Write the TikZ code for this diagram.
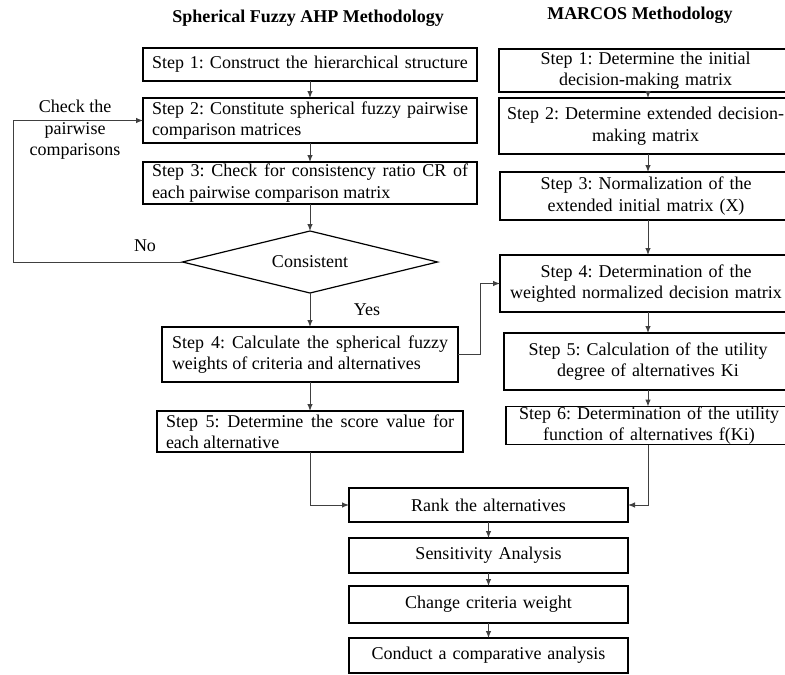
\documentclass[tikz,border=0pt]{standalone}
\usepackage{fontspec}
\setmainfont{Liberation Serif}
\frenchspacing
\usetikzlibrary{shapes.geometric,arrows.meta}
\begin{document}
\begin{tikzpicture}[x=1pt,y=-1pt,
  every node/.style={font=\fontsize{18}{21.5}\selectfont},
  bx/.style={draw=black, line width=1.5pt, inner ysep=0pt, outer sep=0pt},
  jbox/.style={bx, align=justify, inner xsep=9pt},
  lbox/.style={bx, align=left, inner xsep=9pt},
  cbox/.style={bx, align=center, inner xsep=4pt},
  ttl/.style={font=\fontsize{18}{21.5}\selectfont\bfseries},
  arr/.style={draw=black!75, line width=1pt, -{Latex[length=7pt,width=5.5pt]}}
]
\useasboundingbox (0,0) rectangle (785,675);
\fill[white] (0,0) rectangle (785,675);
\clip (0,0) rectangle (785,675);

% titles
\node[ttl] (t1) at (308,18) {Spherical Fuzzy AHP Methodology};
\node[ttl] (t2) at (640,15) {MARCOS Methodology};

% left column
\node[lbox, text width=316pt, minimum height=33pt] (s1) at (310,64.5) {Step 1: Construct the hierarchical structure};
\node[jbox, text width=316pt, minimum height=45pt] (s2) at (310,120.5) {Step 2: Constitute spherical fuzzy pairwise\linebreak comparison matrices};
\node[jbox, text width=316pt, minimum height=42pt] (s3) at (310,183) {Step 3: Check for consistency ratio CR of\linebreak each pairwise comparison matrix};
\node[bx, line width=1.2pt, diamond, aspect=4.1, minimum width=255pt, minimum height=62pt, inner sep=0pt] (dia) at (310,262) {Consistent};
\node[jbox, text width=276pt, inner xsep=10pt, minimum height=55pt] (s4) at (310,354.5) {Step 4: Calculate the spherical fuzzy\linebreak weights of criteria and alternatives};
\node[jbox, text width=288pt, minimum height=41pt] (s5) at (310,431.5) {Step 5: Determine the score value for\linebreak each alternative};

% right column
\node[cbox, text width=285pt, minimum height=43pt] (r1) at (645.5,70.5) {Step 1: Determine the initial\\decision-making matrix};
\node[cbox, text width=285pt, minimum height=56pt] (r2) at (645.5,126) {Step 2: Determine extended decision-\\making matrix};
\node[cbox, text width=284pt, minimum height=48pt] (r3) at (646,196) {Step 3: Normalization of the\\extended initial matrix (X)};
\node[cbox, text width=284pt, minimum height=57pt] (r4) at (646,283.5) {Step 4: Determination of the\\weighted normalized decision matrix};
\node[cbox, text width=280pt, minimum height=57pt] (r5) at (648,361.5) {Step 5: Calculation of the utility\\degree of alternatives Ki};
\node[cbox, text width=278pt, minimum height=37pt] (r6) at (649,425.5) {Step 6: Determination of the utility\\function of alternatives f(Ki)};

% bottom column
\node[cbox, text width=271pt, minimum height=34pt] (rank) at (488.5,505) {Rank the alternatives};
\node[cbox, text width=271pt, minimum height=35pt] (sens) at (488.5,555.5) {Sensitivity Analysis};
\node[cbox, text width=271pt, minimum height=37pt] (chg) at (488.5,604.5) {Change criteria weight};
\node[cbox, text width=271pt, minimum height=35pt] (cmp) at (488.5,655.5) {Conduct a comparative analysis};

% labels
\node (no) at (145,246) {No};
\node (yes) at (367,310) {Yes};
\node[align=center] (chk) at (75,130) {Check the\\pairwise\\comparisons};

% helper coordinates
\coordinate (cL) at (13,0);
\coordinate (cM) at (480,0);
\coordinate (cR) at (648,0);

% connectors left
\draw[arr] (s1) -- (s2);
\draw[arr] (s2) -- (s3);
\draw[arr] (s3) -- (dia);
\draw[arr] (dia) -- (s4);
\draw[arr] (s4) -- (s5);
\draw[arr] (dia.west) -- (dia.west -| cL) |- (s2.west);
\draw[arr] (s4.east) -- (s4.east -| cM) |- (r4.west);

% connectors right
\draw[arr] (r1.south -| cR) -- (r2.north -| cR);
\draw[arr] (r2.south -| cR) -- (r3.north -| cR);
\draw[arr] (r3.south -| cR) -- (r4.north -| cR);
\draw[arr] (r4.south -| cR) -- (r5.north -| cR);
\draw[arr] (r5.south -| cR) -- (r6.north -| cR);

% connectors bottom
\draw[arr] (s5.south) |- (rank.west);
\draw[arr] (r6.south -| cR) |- (rank.east);
\draw[arr] (rank) -- (sens);
\draw[arr] (sens) -- (chg);
\draw[arr] (chg) -- (cmp);
\end{tikzpicture}
\end{document}
